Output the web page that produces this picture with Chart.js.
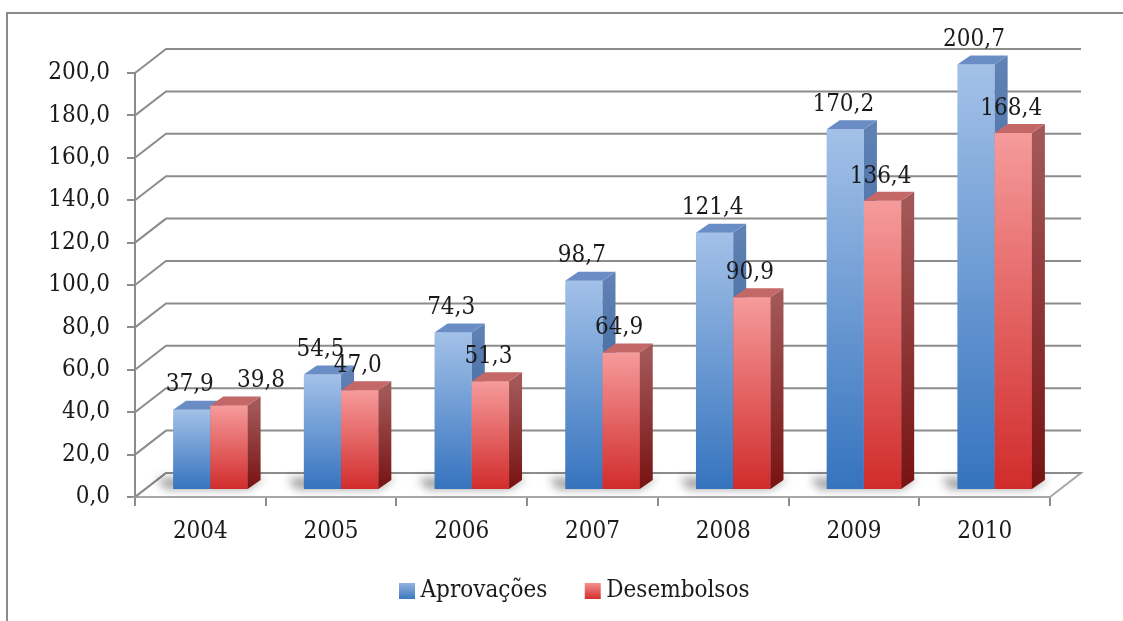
<!DOCTYPE html>
<html lang="pt">
<head>
<meta charset="utf-8">
<title>Aprovações e Desembolsos 2004–2010</title>
<script src="https://cdn.jsdelivr.net/npm/chart.js@4/dist/chart.umd.min.js"></script>
<style>
  html, body { margin: 0; padding: 0; background: #ffffff; }
  canvas { display: block; }
</style>
</head>
<body>
<canvas id="chart" width="1123" height="621"></canvas>
<script>
// Values by year (R$ bilhões)
const categories  = ['2004', '2005', '2006', '2007', '2008', '2009', '2010'];
const aprovacoes  = [37.9, 54.5, 74.3, 98.7, 121.4, 170.2, 200.7];
const desembolsos = [39.8, 47.0, 51.3, 64.9, 90.9, 136.4, 168.4];
const seriesNames = ['Aprovações', 'Desembolsos'];
const yMin = 0, yMax = 200, yStep = 20;

// Fake-3D look: offsets for back wall, bar placement and bar depth
const WALL_DX = 31, WALL_DY = -24;
const BAR_DX = 10, BAR_DY = -7;
const DEPTH_DX = 13, DEPTH_DY = -9;
// hand-placed value label (series index, category index) -> horizontal nudge
const LABEL_NUDGE = { '1:0': 34 };
const LEGEND_SHIFT = 46;

const FONT = { family: '"DejaVu Serif Condensed", "Liberation Serif", serif', size: 24 };
const TEXT = '#1a1a1a';
const GRID = '#8c8c8c';

const palette = [
  { top: '#A3C1E8', bottom: '#3573BE', sideTop: '#5F81B4', sideBottom: '#2B5890', cap: '#6A8DC6',
    boxTop: '#93B3E0', boxBottom: '#3A78C0' },
  { top: '#F69B9B', bottom: '#D12B2B', sideTop: '#A35858', sideBottom: '#781212', cap: '#C46767',
    boxTop: '#F39090', boxBottom: '#D42E2E' }
];

const fmt = v => v.toFixed(1).replace('.', ',');

function frontGradient(k) {
  return function (context) {
    const chart = context.chart;
    if (!chart.chartArea || context.parsed === undefined) return palette[k].top;
    const ys = chart.scales.y;
    const top = ys.getPixelForValue(context.parsed.y);
    const base = ys.getPixelForValue(0);
    const g = chart.ctx.createLinearGradient(0, top, 0, base);
    g.addColorStop(0, palette[k].top);
    g.addColorStop(1, palette[k].bottom);
    return g;
  };
}

function legendSwatch(k) {
  // gradient square, padded on the left so the text sits close to it
  const c = document.createElement('canvas');
  c.width = 33; c.height = 16;
  const x = c.getContext('2d');
  const g = x.createLinearGradient(0, 0, 0, 16);
  g.addColorStop(0, palette[k].boxTop);
  g.addColorStop(1, palette[k].boxBottom);
  x.fillStyle = g;
  x.fillRect(15, 0, 16, 16);
  return c;
}
const swatches = [legendSwatch(0), legendSwatch(1)];

// Outer frame of the chart object
const framePlugin = {
  id: 'frame',
  beforeDraw(chart) {
    const ctx = chart.ctx;
    ctx.save();
    ctx.strokeStyle = '#8a8a8a';
    ctx.lineWidth = 2;
    ctx.strokeRect(7, 13, 1300, 800);
    ctx.restore();
  }
};

// Back wall, side wall, floor and floor shadows
const wallsPlugin = {
  id: 'walls',
  afterLayout(chart) {
    if (chart.legend) {
      chart.legend.left += LEGEND_SHIFT;
      chart.legend.right += LEGEND_SHIFT;
    }
  },
  beforeDatasetsDraw(chart) {
    const ctx = chart.ctx;
    const ys = chart.scales.y;
    const { left, right } = chart.chartArea;
    const y0 = ys.getPixelForValue(0);
    ctx.save();
    // floor
    ctx.beginPath();
    ctx.moveTo(left, y0);
    ctx.lineTo(left + WALL_DX, y0 + WALL_DY);
    ctx.lineTo(right + WALL_DX, y0 + WALL_DY);
    ctx.lineTo(right, y0);
    ctx.closePath();
    ctx.fillStyle = '#ffffff';
    ctx.fill();
    ctx.strokeStyle = '#a8a8a8';
    ctx.lineWidth = 2;
    ctx.stroke();
    // wall gridlines
    ctx.strokeStyle = GRID;
    ctx.lineWidth = 2;
    ys.ticks.forEach(t => {
      const y = ys.getPixelForValue(t.value);
      ctx.beginPath();
      ctx.moveTo(left, y);
      ctx.lineTo(left + WALL_DX, y + WALL_DY);
      ctx.lineTo(right + WALL_DX, y + WALL_DY);
      ctx.stroke();
    });
    // soft shadows under each pair of bars
    const m0 = chart.getDatasetMeta(0), m1 = chart.getDatasetMeta(1);
    ctx.filter = 'blur(5px)';
    ctx.fillStyle = 'rgba(0,0,0,0.38)';
    m0.data.forEach((a, i) => {
      const b = m1.data[i];
      const L = a.x - a.width / 2 + BAR_DX;
      const R = b.x + b.width / 2 + BAR_DX;
      const B = a.base + BAR_DY;
      ctx.beginPath();
      ctx.moveTo(L - 8, B);
      ctx.lineTo(R, B);
      ctx.lineTo(R + DEPTH_DX + 4, B + DEPTH_DY - 2);
      ctx.lineTo(L - 16, B + DEPTH_DY - 2);
      ctx.closePath();
      ctx.fill();
    });
    ctx.restore();
  }
};

// Side and top faces of one bar, drawn in the shifted (depth) frame
function drawBarFaces(ctx, el, p) {
  const { x, y, base, width } = el.getProps(['x', 'y', 'base', 'width'], true);
  const R = x + width / 2, L = x - width / 2;
  const g = ctx.createLinearGradient(0, y, 0, base);
  g.addColorStop(0, p.sideTop);
  g.addColorStop(1, p.sideBottom);
  ctx.beginPath();
  ctx.moveTo(R, y);
  ctx.lineTo(R + DEPTH_DX, y + DEPTH_DY);
  ctx.lineTo(R + DEPTH_DX, base + DEPTH_DY);
  ctx.lineTo(R, base);
  ctx.closePath();
  ctx.fillStyle = g;
  ctx.fill();
  ctx.beginPath();
  ctx.moveTo(L, y);
  ctx.lineTo(L + DEPTH_DX, y + DEPTH_DY);
  ctx.lineTo(R + DEPTH_DX, y + DEPTH_DY);
  ctx.lineTo(R, y);
  ctx.closePath();
  ctx.fillStyle = p.cap;
  ctx.fill();
}

// Chart.js paints the last dataset first; the blue series (painted last)
// gets its depth faces, then the red series is brought back in front of them.
const barsPlugin = {
  id: 'bars3d',
  beforeDatasetDraw(chart) {
    chart.ctx.save();
    chart.ctx.translate(BAR_DX, BAR_DY);
  },
  afterDatasetDraw(chart, args) {
    const ctx = chart.ctx;
    if (args.index === 0) {
      args.meta.data.forEach(el => drawBarFaces(ctx, el, palette[0]));
      const m1 = chart.getDatasetMeta(1);
      if (m1.visible) {
        m1.data.forEach(el => {
          el.draw(ctx);
          drawBarFaces(ctx, el, palette[1]);
        });
      }
    }
    ctx.restore();
  }
};

// Value labels above each bar
const valueLabels = {
  id: 'valueLabels',
  afterDatasetsDraw(chart) {
    const ctx = chart.ctx;
    ctx.save();
    ctx.font = `${FONT.size}px ${FONT.family}`;
    ctx.fillStyle = TEXT;
    ctx.textAlign = 'center';
    ctx.textBaseline = 'middle';
    chart.data.datasets.forEach((ds, di) => {
      chart.getDatasetMeta(di).data.forEach((el, i) => {
        const nudge = LABEL_NUDGE[di + ':' + i] || 0;
        ctx.fillText(fmt(ds.data[i]), el.x + BAR_DX - 2 + nudge, el.y + BAR_DY - 24.5);
      });
    });
    ctx.restore();
  }
};

new Chart(document.getElementById('chart'), {
  type: 'bar',
  data: {
    labels: categories,
    datasets: [
      { label: seriesNames[0], data: aprovacoes, backgroundColor: frontGradient(0), clip: false },
      { label: seriesNames[1], data: desembolsos, backgroundColor: frontGradient(1), clip: false }
    ]
  },
  options: {
    responsive: false,
    animation: false,
    devicePixelRatio: 1,
    layout: { padding: { left: 0, top: 73, right: 73, bottom: 8 } },
    datasets: { bar: { categoryPercentage: 0.57, barPercentage: 1, borderWidth: 0 } },
    scales: {
      x: {
        grid: { offset: true, drawOnChartArea: false, tickLength: 9, color: GRID, lineWidth: 2 },
        border: { color: GRID, width: 2 },
        ticks: { font: FONT, color: TEXT, padding: 11 },
        afterFit(scale) { scale.height = 58 - 7; }
      },
      y: {
        min: yMin, max: yMax,
        grid: { drawOnChartArea: false, tickLength: 8, color: GRID, lineWidth: 2 },
        border: { color: GRID, width: 2 },
        ticks: { stepSize: yStep, font: FONT, color: TEXT, padding: 17, callback: v => fmt(v) },
        afterFit(scale) { scale.width = 135; }
      }
    },
    plugins: {
      tooltip: { enabled: false },
      legend: {
        position: 'bottom',
        labels: {
          font: FONT, color: TEXT, usePointStyle: true, boxWidth: 16, boxHeight: 16, padding: 31,
          generateLabels(chart) {
            const items = Chart.defaults.plugins.legend.labels.generateLabels(chart);
            items.forEach((it, i) => { it.pointStyle = swatches[i]; });
            return items;
          }
        }
      }
    }
  },
  plugins: [framePlugin, wallsPlugin, barsPlugin, valueLabels]
});
</script>
</body>
</html>
